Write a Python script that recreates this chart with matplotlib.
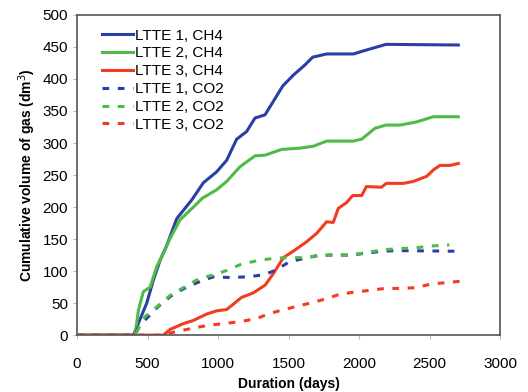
import matplotlib.pyplot as plt

plt.rcParams['font.family'] = ['Liberation Sans', 'DejaVu Sans']

# LTTE 1, CH4
d1_ch4 = [0, 400, 494, 541, 589, 636, 707, 813, 896, 990, 1061, 1132, 1203, 1262, 1333,
          1392, 1459, 1534, 1617, 1671, 1770, 1960, 2019, 2113, 2191, 2704]
v1_ch4 = [0, 0, 50, 86, 117, 140, 182, 211, 238, 255, 273, 306, 318, 339, 344,
          365, 389, 406, 422, 434, 439, 439, 443, 449, 454, 453]

# LTTE 2, CH4
d2_ch4 = [0, 411, 435, 470, 518, 565, 612, 660, 730, 825, 890, 990, 1061, 1156, 1262, 1333,
          1451, 1582, 1676, 1770, 1960, 2019, 2113, 2191, 2291, 2409, 2527, 2704]
v2_ch4 = [0, 0, 39, 68, 75, 107, 128, 151, 180, 200, 214, 227, 240, 263, 280, 281,
          290, 292, 295, 303, 303, 306, 323, 328, 328, 333, 341, 341]

# LTTE 3, CH4
d3_ch4 = [0, 612, 660, 754, 825, 920, 990, 1061, 1167, 1250, 1333, 1392, 1463, 1546, 1629,
          1700, 1770, 1817, 1853, 1912, 1955, 2019, 2052, 2160, 2193, 2315, 2385, 2480,
          2527, 2574, 2645, 2704]
v3_ch4 = [0, 0, 9, 18, 23, 33, 38, 40, 59, 66, 78, 96, 121, 133, 146,
          159, 177, 176, 198, 207, 218, 218, 232, 231, 237, 237, 240, 248,
          258, 265, 265, 268]

# LTTE 1, CO2
d1_co2 = [0, 411, 435, 506, 577, 671, 777, 896, 967, 1085, 1203, 1321, 1404, 1510, 1617,
          1723, 1936, 2054, 2160, 2267, 2704]
v1_co2 = [0, 0, 13, 29, 45, 62, 75, 86, 91, 90, 91, 94, 101, 115, 120,
          125, 125, 128, 131, 132, 131]

# LTTE 2, CO2
d2_co2 = [0, 411, 482, 565, 660, 777, 872, 967, 1061, 1167, 1274, 1392, 1487, 1617, 1723,
          1936, 2054, 2160, 2267, 2385, 2503, 2640]
v2_co2 = [0, 0, 29, 44, 62, 77, 89, 94, 101, 111, 116, 120, 121, 121, 125,
          125, 129, 133, 135, 136, 139, 141]

# LTTE 3, CO2
d3_co2 = [0, 612, 671, 801, 920, 1037, 1156, 1274, 1368, 1451, 1558, 1652, 1770, 1865,
          1960, 2078, 2184, 2291, 2397, 2515, 2621, 2752]
v3_co2 = [0, 0, 4, 10, 15, 18, 21, 26, 34, 39, 45, 50, 57, 64,
          67, 70, 73, 73, 74, 80, 82, 85]

blue = '#2b3ea6'
green = '#4dbb45'
red = '#f23c22'

fig = plt.figure(figsize=(5.28, 3.92), dpi=100)
ax = fig.add_axes([0.146, 0.145, 0.801, 0.817])

ax.plot(d1_ch4, v1_ch4, color=blue, lw=2.2, label='LTTE 1, CH4')
ax.plot(d2_ch4, v2_ch4, color=green, lw=2.2, label='LTTE 2, CH4')
ax.plot(d3_ch4, v3_ch4, color=red, lw=2.2, label='LTTE 3, CH4')
ax.plot(d1_co2, v1_co2, color=blue, lw=2.2, ls=(0, (2.2, 2.8)), label='LTTE 1, CO2')
ax.plot(d2_co2, v2_co2, color=green, lw=2.2, ls=(0, (2.2, 2.8)), label='LTTE 2, CO2')
ax.plot(d3_co2, v3_co2, color=red, lw=2.2, ls=(0, (2.2, 2.8)), label='LTTE 3, CO2')

ax.set_xlim(0, 3000)
ax.set_ylim(0, 500)
ax.set_xticks(range(0, 3001, 500))
ax.set_yticks(range(0, 501, 50))
ax.tick_params(labelsize=11, length=3, color='#bbbbbb')
ax.tick_params(axis='x', pad=13)
for s in ax.spines.values():
    s.set_color('#555555')
    s.set_linewidth(1.2)

ax.set_xlabel('Duration (days)', fontsize=10, fontweight='bold', labelpad=4)
ax.set_ylabel('Cumulative volume of gas (dm$^3$)', fontsize=10, fontweight='bold', labelpad=3)

ax.legend(loc='upper left', frameon=False, fontsize=11, handlelength=2.0,
          handletextpad=0.15, labelspacing=0.25, borderaxespad=0.5,
          bbox_to_anchor=(0.027, 1.0))

fig.savefig('out.png', dpi=100)
